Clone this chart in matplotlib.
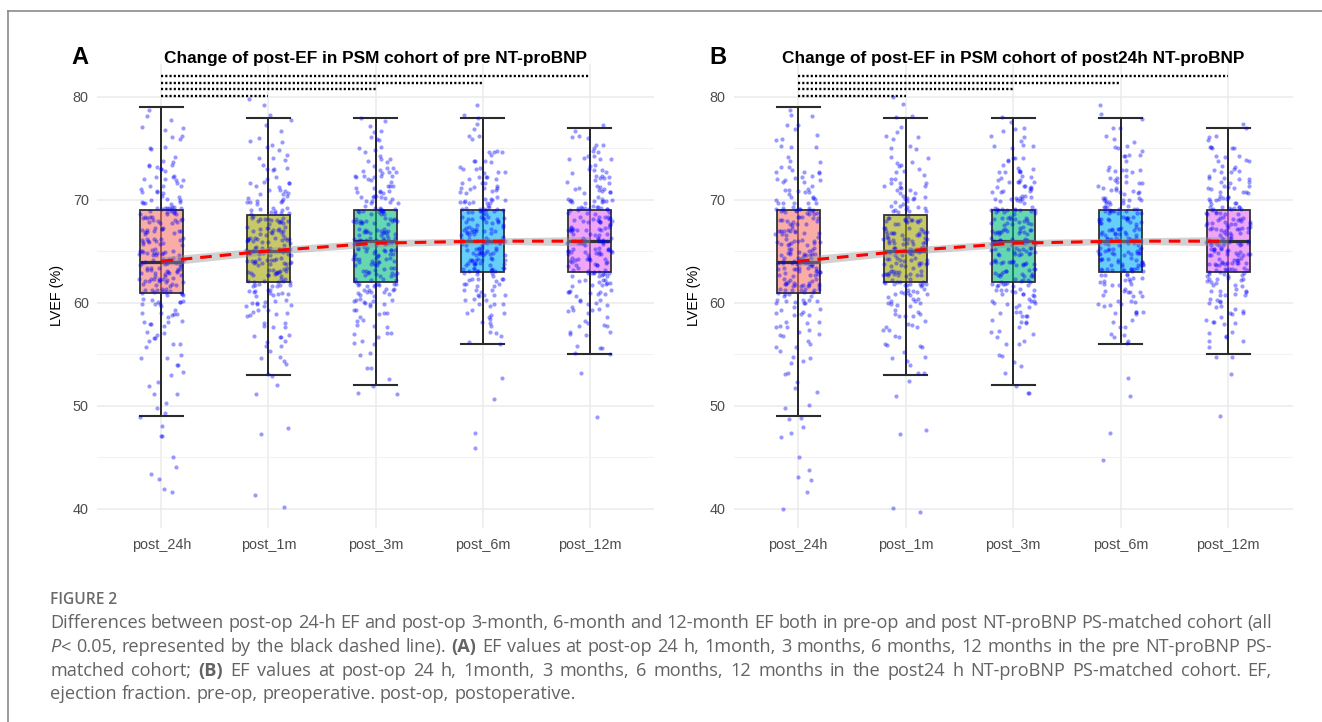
import numpy as np
import matplotlib
matplotlib.use("Agg")
import matplotlib.pyplot as plt
from matplotlib.colors import to_rgba
from matplotlib.lines import Line2D

# ---------------- data ----------------
categories = ["post_24h", "post_1m", "post_3m", "post_6m", "post_12m"]
box_colors = ["#F8766D", "#A3A500", "#00BF7D", "#00B0F6", "#E76BF3"]

# box statistics (same for both cohorts)
whis_lo = [49, 53, 52, 56, 55]
q1 = [61, 62, 62, 63, 63]
med = [64, 65, 66, 66, 66]
q3 = [69, 68.5, 69, 69, 69]
whis_hi = [79, 78, 78, 78, 77]

# counts of observed LVEF values (40..80) per time point
ef_levels = list(range(40, 81))
#            40 41 42 43 44 45 46 47 48 49 50 51 52 53 54 55 56 57 58 59 60 61 62 63 64 65 66 67 68 69 70 71 72 73 74 75 76 77 78 79 80
A_24h  = [0, 0, 2, 2, 1, 1, 0, 2, 1, 2, 2, 2, 2, 2, 2, 3, 4, 5, 6, 7, 10, 14, 18, 18, 19, 16, 14, 13, 14, 18, 10, 8, 8, 7, 3, 3, 3, 3, 2, 1, 0]
A_1m   = [1, 1, 0, 0, 0, 0, 0, 1, 1, 0, 0, 1, 1, 2, 2, 3, 4, 4, 5, 7, 9, 11, 15, 17, 18, 20, 17, 16, 15, 11, 9, 8, 6, 5, 4, 3, 3, 2, 2, 1, 1]
A_3m   = [0, 0, 0, 0, 0, 0, 0, 0, 0, 0, 0, 2, 1, 1, 2, 2, 3, 4, 5, 6, 10, 12, 14, 15, 16, 18, 19, 17, 16, 16, 12, 10, 9, 8, 5, 4, 3, 3, 2, 0, 0]
A_6m   = [0, 0, 0, 0, 0, 0, 1, 1, 0, 0, 0, 1, 0, 1, 0, 0, 2, 3, 4, 5, 7, 9, 11, 16, 17, 19, 21, 18, 16, 17, 12, 10, 8, 7, 5, 4, 3, 2, 2, 1, 0]
A_12m  = [0, 0, 0, 0, 0, 0, 0, 0, 0, 1, 0, 0, 0, 1, 0, 2, 3, 4, 5, 6, 7, 9, 11, 16, 17, 18, 20, 18, 17, 17, 12, 10, 8, 7, 6, 5, 3, 2, 0, 0, 0]

B_24h  = [1, 0, 1, 2, 1, 1, 0, 2, 1, 2, 2, 1, 2, 2, 2, 3, 4, 5, 6, 7, 10, 14, 18, 18, 19, 16, 14, 13, 14, 18, 10, 8, 8, 7, 3, 3, 3, 3, 2, 1, 0]
B_1m   = [2, 0, 0, 0, 0, 0, 0, 1, 1, 0, 0, 1, 1, 2, 2, 3, 4, 4, 5, 7, 9, 11, 15, 17, 18, 20, 17, 16, 15, 11, 9, 8, 6, 5, 4, 3, 3, 2, 2, 1, 1]
B_3m   = [0, 0, 0, 0, 0, 0, 0, 0, 0, 0, 0, 2, 1, 1, 2, 2, 3, 4, 5, 6, 10, 12, 14, 15, 16, 18, 19, 17, 16, 16, 12, 10, 9, 8, 5, 4, 3, 3, 2, 0, 0]
B_6m   = [0, 0, 0, 0, 0, 1, 0, 1, 0, 0, 0, 1, 0, 1, 0, 0, 2, 3, 4, 5, 7, 9, 11, 16, 17, 19, 21, 18, 16, 17, 12, 10, 8, 7, 5, 4, 3, 2, 2, 1, 0]
B_12m  = [0, 0, 0, 0, 0, 0, 0, 0, 0, 1, 0, 0, 0, 1, 0, 2, 3, 4, 5, 6, 7, 9, 11, 16, 17, 18, 20, 18, 17, 17, 12, 10, 8, 7, 6, 5, 3, 2, 0, 0, 0]

# smooth (loess) line and its confidence band
smooth_fit = [64.05, 65.05, 65.8, 66.0, 66.0]
smooth_lo = [63.6, 64.7, 65.45, 65.7, 65.55]
smooth_hi = [64.5, 65.4, 66.15, 66.3, 66.45]

# significance comparisons: (end category index, y level)
sig_end = [1, 2, 3, 4]
sig_y = [80.1, 80.75, 81.4, 82.05]

panel_letters = ["A", "B"]
panel_titles = ["Change of post-EF in PSM cohort of pre NT-proBNP",
                "Change of post-EF in PSM cohort of post24h NT-proBNP"]
y_label = "LVEF (%)"
y_ticks = [40, 50, 60, 70, 80]
y_minor = [45, 55, 65, 75]

caption_head = "FIGURE 2"
caption_lines = [
    "Differences between post-op 24-h EF and post-op 3-month, 6-month and 12-month EF both in pre-op and post NT-proBNP PS-matched cohort (all",
    "P< 0.05, represented by the black dashed line). (A) EF values at post-op 24 h, 1month, 3 months, 6 months, 12 months in the pre NT-proBNP PS-",
    "matched cohort; (B) EF values at post-op 24 h, 1month, 3 months, 6 months, 12 months in the post24 h NT-proBNP PS-matched cohort. EF,",
    "ejection fraction. pre-op, preoperative. post-op, postoperative.",
]
bold_words = {"(A)", "(B)"}

# ---------------- figure ----------------
W, H = 1322, 722
fig = plt.figure(figsize=(W / 100, H / 100), dpi=100)
fig.patch.set_facecolor("white")
SANS = ["Liberation Sans", "DejaVu Sans"]


def fx(x):
    return x / W


def fy(y):
    return 1 - y / H


# frame lines
fig.add_artist(Line2D([fx(8), 1.0], [fy(10.5), fy(10.5)], color="#8a8a8a", lw=1.2, transform=fig.transFigure))
fig.add_artist(Line2D([fx(8), fx(8)], [fy(10.5), 0.0], color="#8a8a8a", lw=1.2, transform=fig.transFigure))

panels = [
    dict(left=97, right=654, ylab_x=64, groups=[A_24h, A_1m, A_3m, A_6m, A_12m]),
    dict(left=733.5, right=1292.5, ylab_x=701, groups=[B_24h, B_1m, B_3m, B_6m, B_12m]),
]
top_px, bot_px = 63.5, 528.0
YMIN, YMAX = 38.15, 83.25


def hash01(n, seed):
    # deterministic scrambled offsets in [0, 1) for jitter placement
    v = np.sin(n * 12.9898 + seed * 78.233) * 43758.5453
    return v - np.floor(v)


for p, panel in enumerate(panels):
    ax = fig.add_axes([fx(panel["left"]), fy(bot_px), (panel["right"] - panel["left"]) / W, (bot_px - top_px) / H])
    ax.set_xlim(-0.6, 4.6)
    ax.set_ylim(YMIN, YMAX)
    for s in ax.spines.values():
        s.set_visible(False)
    ax.set_yticks(y_ticks)
    ax.set_yticks(y_minor, minor=True)
    ax.set_xticks(range(len(categories)))
    ax.set_xticklabels(categories)
    ax.tick_params(axis="both", which="both", length=0, labelsize=10.4, labelcolor="#4D4D4D")
    ax.tick_params(axis="y", pad=6)
    ax.tick_params(axis="x", pad=7)
    for lab in ax.get_xticklabels() + ax.get_yticklabels():
        lab.set_family(SANS)
    ax.grid(True, which="major", color="#EBEBEB", lw=1.1)
    ax.grid(True, which="minor", axis="y", color="#F2F2F2", lw=0.8)
    ax.set_axisbelow(True)
    ax.set_ylabel(y_label, fontsize=10.4, family=SANS, color="black")
    ax.yaxis.set_label_coords((panel["ylab_x"] - panel["left"]) / (panel["right"] - panel["left"]), 0.5)

    pos = np.arange(len(categories))
    # error-bar style whiskers through the boxes
    ax.vlines(pos, whis_lo, whis_hi, color="#2b2b2b", lw=1.4, zorder=2)
    stats = [dict(whislo=whis_lo[i], q1=q1[i], med=med[i], q3=q3[i], whishi=whis_hi[i]) for i in range(len(categories))]
    bp = ax.bxp(stats, positions=pos, widths=0.4, capwidths=0.4, patch_artist=True, showfliers=False,
                boxprops=dict(edgecolor="#333333", lw=1.3),
                medianprops=dict(color="#333333", lw=2.3),
                whiskerprops=dict(color="#2b2b2b", lw=1.4),
                capprops=dict(color="#2b2b2b", lw=1.5),
                manage_ticks=False, zorder=3)
    for patch, c in zip(bp["boxes"], box_colors):
        patch.set_facecolor(to_rgba(c, 0.6))

    # jittered points
    for k, counts in enumerate(panel["groups"]):
        vals = np.repeat(ef_levels, counts).astype(float)
        idx = np.arange(len(vals)) + 1 + 500 * k + 5000 * p
        jx = (hash01(idx, 1) - 0.5) * 0.42
        jy = (hash01(idx, 2) - 0.5) * 0.8
        ax.scatter(k + jx, vals + jy, s=9, color="#0000FF", alpha=0.4, linewidths=0, zorder=4)

    # smooth line with band
    ax.fill_between(pos, smooth_lo, smooth_hi, color="#999999", alpha=0.45, lw=0, zorder=5)
    ax.plot(pos, smooth_fit, color="#FF0000", lw=2.2, dashes=(3.8, 2.6), zorder=6, solid_capstyle="butt")

    # significance dotted lines
    for e, yv in zip(sig_end, sig_y):
        ax.plot([0, e], [yv, yv], color="black", lw=1.7, dashes=(0.9, 0.9), zorder=6, clip_on=False)

    cx = (panel["left"] + panel["right"]) / 2
    fig.text(fx(cx), fy(58), panel_titles[p], ha="center", va="center", fontsize=12.4, fontweight="bold", family=SANS)
    fig.text(fx(80 + 638 * p), fy(57), panel_letters[p], ha="center", va="center", fontsize=17, fontweight="bold", family=SANS)

# ---------------- caption (justified) ----------------
CAP = ["Open Sans", "DejaVu Sans"]
cap_color = "#636363"
cap_size = 13.1
fig.text(fx(50), fy(604), caption_head, ha="left", va="baseline", fontsize=11.2, fontweight="semibold",
         family=CAP, color="#6a6a6a")

renderer = fig.canvas.get_renderer()


def style_props(st):
    d = dict(fontsize=cap_size, family=CAP, color=cap_color)
    if st == "b":
        d["fontweight"] = "bold"
    if st == "i":
        d["fontstyle"] = "italic"
    return d


def measure(txt, st):
    t = fig.text(0, 0, txt, **style_props(st))
    w = t.get_window_extent(renderer).width
    t.remove()
    return w


def word_runs(w):
    if w in bold_words:
        return [(w, "b")]
    if w.startswith("P<"):
        return [("P", "i"), (w[1:], "n")]
    return [(w, "n")]


space_w = measure("a a", "n") - measure("aa", "n")
x_left, x_right = 50.0, 1272.0
baselines = [628, 652, 676, 699]
for li, line in enumerate(caption_lines):
    words = [word_runs(w) for w in line.split(" ")]
    widths = [[measure(t, s) for t, s in runs] for runs in words]
    total = sum(sum(ws) for ws in widths)
    justify = li < len(caption_lines) - 1
    gap = (x_right - x_left - total) / (len(words) - 1) if justify else space_w
    x = x_left
    for runs, ws in zip(words, widths):
        for (t, s), wdt in zip(runs, ws):
            fig.text(fx(x), fy(baselines[li]), t, ha="left", va="baseline", **style_props(s))
            x += wdt
        x += gap

fig.savefig("out.png", dpi=100, facecolor="white")
